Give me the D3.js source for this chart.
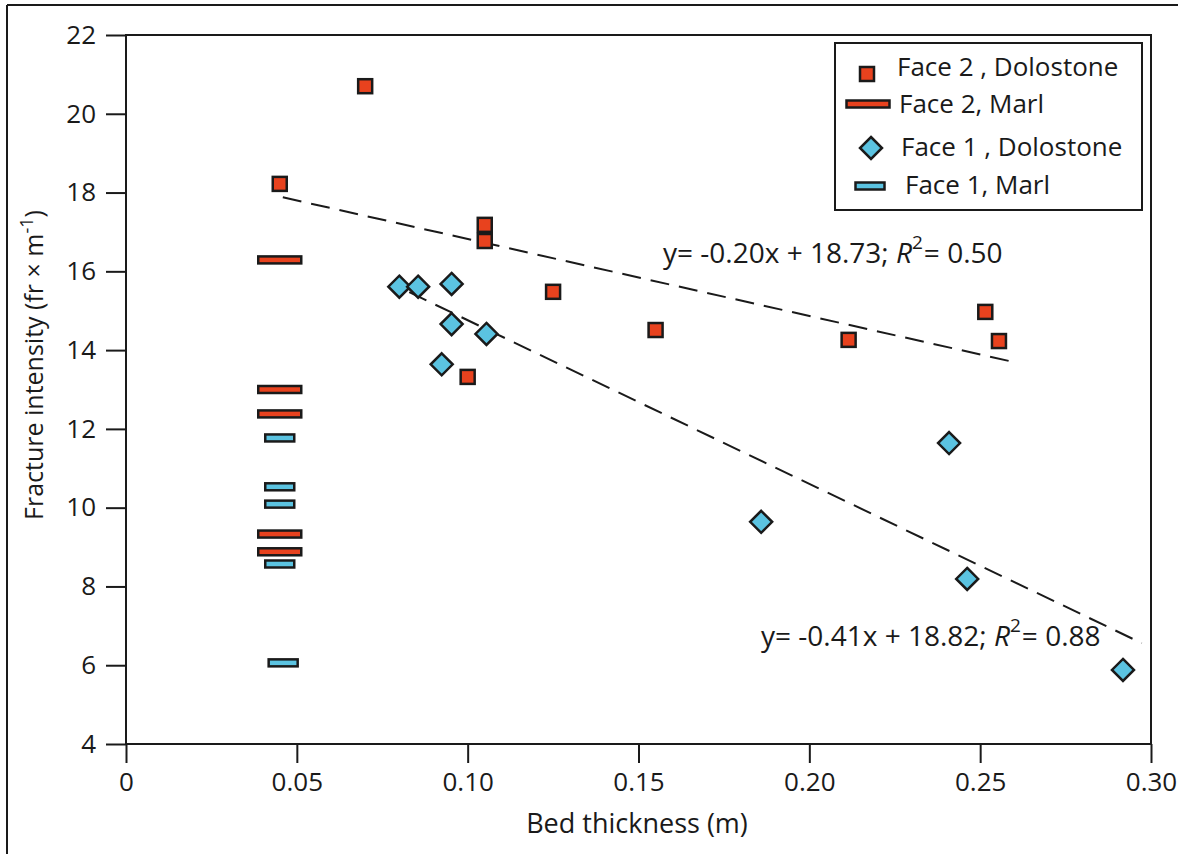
<!DOCTYPE html>
<html>
<head>
<meta charset="utf-8">
<script src="https://cdn.jsdelivr.net/npm/d3@7"></script>
<style>
  body { margin: 0; background: #fff; }
  text { font-family: "Open Sans", sans-serif; fill: #1a1a1a; }
</style>
</head>
<body>
<svg width="1178" height="854"></svg>
<script>
// datos
const face2DoloX = [0.070, 0.045, 0.105, 0.105, 0.125, 0.155, 0.100, 0.2115, 0.2515, 0.2555];
const face2DoloY = [20.70, 18.22, 17.18, 16.77, 15.48, 14.51, 13.32, 14.26, 14.97, 14.23];

const face2MarlX = [0.045, 0.045, 0.045, 0.045, 0.045];
const face2MarlY = [16.29, 13.00, 12.38, 9.33, 8.88];

const face1DoloX = [0.080, 0.0855, 0.0953, 0.0953, 0.1055, 0.0924, 0.1859, 0.2409, 0.2462, 0.2918];
const face1DoloY = [15.61, 15.61, 15.68, 14.66, 14.41, 13.64, 9.64, 11.64, 8.19, 5.88];

const face1MarlX = [0.045, 0.045, 0.045, 0.045, 0.046];
const face1MarlY = [11.77, 10.53, 10.09, 8.57, 6.06];

// lineas de tendencia (extremos)
const trendX0 = [0.0459, 0.0829];
const trendY0 = [17.88, 15.47];
const trendX1 = [0.2607, 0.2973];
const trendY1 = [13.68, 6.56];
const trendLabels = [
  { pre: "y= -0.20x + 18.73; ", r2: "= 0.50" },
  { pre: "y= -0.41x + 18.82; ", r2: "= 0.88" }
];

const xTicks = [0, 0.05, 0.10, 0.15, 0.20, 0.25, 0.30];
const xTickLabels = ["0", "0.05", "0.10", "0.15", "0.20", "0.25", "0.30"];
const yTicks = [4, 6, 8, 10, 12, 14, 16, 18, 20, 22];

const legendLabels = ["Face 2 , Dolostone", "Face 2, Marl", "Face 1 , Dolostone", "Face 1, Marl"];

const rojo = "#e8421e";
const azul = "#5bc3e1";
const tinta = "#1a1a1a";

const svg = d3.select("svg");
const izq = 126, der = 1151, arriba = 35, abajo = 744;

const xScale = d3.scaleLinear().domain([0, 0.30]).range([izq, der]);
const yScale = d3.scaleLinear().domain([4, 22]).range([abajo, arriba]);

// marco exterior
svg.append("line").attr("x1", 7).attr("y1", 5).attr("x2", 1178).attr("y2", 5)
  .attr("stroke", tinta).attr("stroke-width", 2);
svg.append("line").attr("x1", 7).attr("y1", 5).attr("x2", 7).attr("y2", 854)
  .attr("stroke", tinta).attr("stroke-width", 2);

// caja del grafico
svg.append("rect")
  .attr("x", izq).attr("y", arriba)
  .attr("width", der - izq).attr("height", abajo - arriba)
  .attr("fill", "none").attr("stroke", tinta).attr("stroke-width", 2);

// ejes
const xAxis = svg.append("g")
  .attr("transform", `translate(0,${abajo})`)
  .call(d3.axisBottom(xScale).tickValues(xTicks)
    .tickFormat((d, i) => xTickLabels[i]).tickSize(19).tickSizeOuter(0).tickPadding(10));
const yAxis = svg.append("g")
  .attr("transform", `translate(${izq},0)`)
  .call(d3.axisLeft(yScale).tickValues(yTicks).tickSize(20).tickSizeOuter(0).tickPadding(10));

[xAxis, yAxis].forEach(g => {
  g.select(".domain").remove();
  g.selectAll(".tick line").attr("stroke", tinta).attr("stroke-width", 2);
  g.selectAll(".tick text").attr("font-size", 26).attr("font-family", "Open Sans").attr("fill", tinta);
});

// titulos de ejes
svg.append("text")
  .attr("x", 637).attr("y", 833)
  .attr("text-anchor", "middle").attr("font-size", 27)
  .text("Bed thickness (m)");

const yTitle = svg.append("text")
  .attr("transform", "translate(43,365) rotate(-90)")
  .attr("text-anchor", "middle").attr("font-size", 25);
yTitle.append("tspan").text("Fracture intensity (fr × m");
yTitle.append("tspan").attr("dy", -10).attr("font-size", 18).text("-1");
yTitle.append("tspan").attr("dy", 10).text(")");

// lineas de tendencia
trendX0.forEach((x0, i) => {
  svg.append("line")
    .attr("x1", xScale(x0)).attr("y1", yScale(trendY0[i]))
    .attr("x2", xScale(trendX1[i])).attr("y2", yScale(trendY1[i]))
    .attr("stroke", tinta).attr("stroke-width", 2)
    .attr("stroke-dasharray", "19,10");
});

// etiquetas de las ecuaciones
const labelPos = [[663, 263], [761, 646]];
trendLabels.forEach((lab, i) => {
  const t = svg.append("text")
    .attr("x", labelPos[i][0]).attr("y", labelPos[i][1])
    .attr("font-size", 28);
  t.append("tspan").text(lab.pre);
  t.append("tspan").attr("font-style", "italic").text("R");
  t.append("tspan").attr("dy", -14).attr("font-size", 19).text("2");
  t.append("tspan").attr("dy", 14).attr("dx", 1).text(lab.r2);
});

// marcadores
function square(cx, cy, s) {
  return svg.append("rect")
    .attr("x", cx - s / 2).attr("y", cy - s / 2)
    .attr("width", s).attr("height", s)
    .attr("fill", rojo).attr("stroke", tinta).attr("stroke-width", 2.5);
}
function bar(cx, cy, w, color) {
  return svg.append("rect")
    .attr("x", cx - w / 2).attr("y", cy - 3.5)
    .attr("width", w).attr("height", 7)
    .attr("fill", color).attr("stroke", tinta).attr("stroke-width", 2.5);
}
function diamond(cx, cy, r) {
  return svg.append("path")
    .attr("d", `M${cx},${cy - r}L${cx + r},${cy}L${cx},${cy + r}L${cx - r},${cy}Z`)
    .attr("fill", azul).attr("stroke", tinta).attr("stroke-width", 2.5);
}

face2MarlX.forEach((x, i) => bar(xScale(x), yScale(face2MarlY[i]), 43, rojo));
face1MarlX.forEach((x, i) => bar(xScale(x), yScale(face1MarlY[i]), 29, azul));
face1DoloX.forEach((x, i) => diamond(xScale(x), yScale(face1DoloY[i]), 11));
face2DoloX.forEach((x, i) => square(xScale(x), yScale(face2DoloY[i]), 14));

// leyenda
svg.append("rect")
  .attr("x", 835).attr("y", 43).attr("width", 307).attr("height", 167)
  .attr("fill", "#fff").attr("stroke", tinta).attr("stroke-width", 2);
square(867, 74, 14);
bar(868, 104, 43, rojo);
diamond(871, 148, 11);
bar(870, 186, 29, azul);
const legendX = [897, 899, 901, 905];
const legendY = [76, 113, 156, 194];
legendLabels.forEach((t, i) => {
  svg.append("text")
    .attr("x", legendX[i]).attr("y", legendY[i])
    .attr("font-size", 26).text(t);
});
</script>
</body>
</html>
